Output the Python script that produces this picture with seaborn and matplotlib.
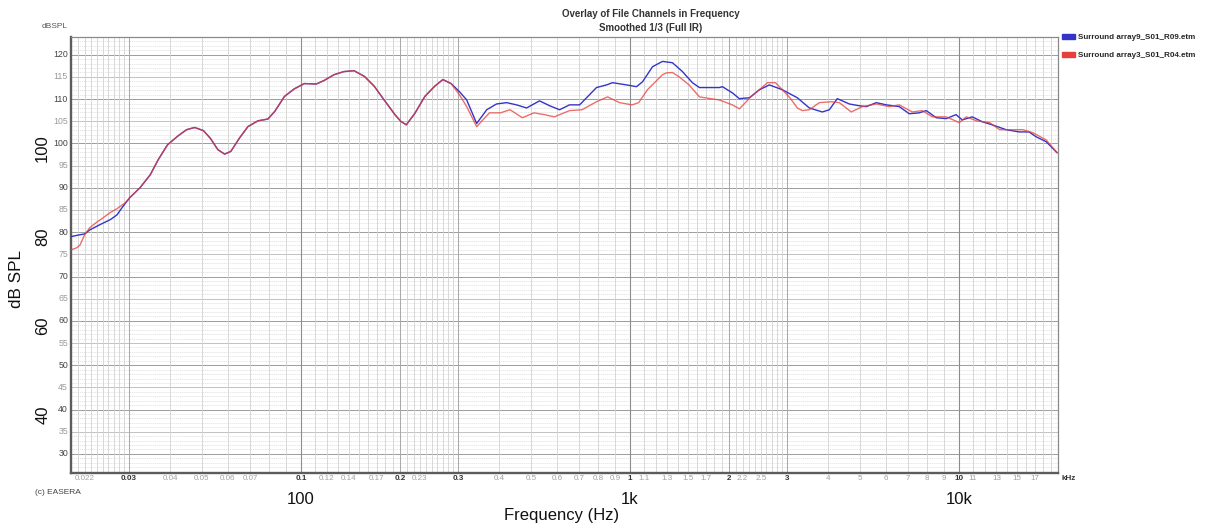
import numpy as np
import pandas as pd
import matplotlib
matplotlib.use("Agg")
import matplotlib.pyplot as plt
import matplotlib.transforms as mtransforms
from matplotlib.patches import Patch
from matplotlib.ticker import NullLocator
import seaborn as sns

# ---------------- measured responses (Hz, dB SPL) ----------------
# below 32 Hz the two measurements differ
blue_low_freq = [20, 20.9, 22.0, 22.8, 24.5, 26.3, 27.6, 28.7, 30.2]
blue_low_db = [79.0, 79.3, 79.6, 80.5, 81.7, 82.8, 83.9, 85.7, 87.8]
red_low_freq = [20, 20.85, 21.3, 22.0, 22.8, 24.0, 25.0, 26.3, 27.6, 29.2, 30.2]
red_low_db = [76.0, 76.5, 77.1, 79.4, 81.0, 82.3, 83.2, 84.4, 85.3, 86.6, 87.8]

# 32 Hz .. 290 Hz both measurements coincide
shared_freq = [32.4, 34.8, 36.8, 39.3, 42.3, 44.9, 47.5, 50.5, 53.0, 55.9, 58.6,
               61.2, 65.0, 69.0, 74.0, 79.3, 83.2, 89.1, 95.4, 102.4, 111.3, 117.6,
               126, 135, 145, 156, 167, 179, 193, 201, 209, 222, 238, 255, 270, 286]
shared_db = [90.0, 92.9, 96.3, 99.7, 101.7, 103.1, 103.6, 102.9, 101.2, 98.6, 97.6,
             98.2, 101.2, 103.8, 105.1, 105.5, 107.2, 110.6, 112.3, 113.5, 113.4, 114.2,
             115.5, 116.2, 116.4, 115.1, 112.9, 109.8, 106.5, 105.0, 104.2, 106.8,
             110.6, 112.9, 114.4, 113.5]

blue_high_freq = [303, 319, 342, 367, 393, 422, 452, 485, 531, 570, 611, 655, 703,
                  738, 791, 849, 885, 976, 1047, 1092, 1171, 1256, 1346, 1444, 1548,
                  1626, 1870, 1910, 2048, 2151, 2307, 2474, 2653, 2906, 3227, 3509,
                  3843, 4036, 4268, 4642, 4977, 5229, 5607, 6014, 6587, 7063, 7570,
                  7956, 8531, 9148, 9800, 10232, 10970, 11767, 12619, 13913, 15236,
                  16330, 17164, 18405, 19876]
blue_high_db = [111.7, 109.8, 104.5, 107.6, 108.9, 109.2, 108.7, 108.0, 109.6, 108.5,
                107.6, 108.7, 108.7, 110.3, 112.6, 113.2, 113.7, 113.2, 112.8, 113.9,
                117.3, 118.5, 118.2, 116.2, 113.7, 112.6, 112.6, 112.8, 111.4, 110.1,
                110.3, 112.1, 113.2, 112.1, 110.3, 108.0, 107.1, 107.6, 110.1, 108.9,
                108.5, 108.3, 109.2, 108.7, 108.3, 106.7, 106.9, 107.4, 105.8, 105.6,
                106.5, 105.3, 106.0, 104.9, 104.2, 103.1, 102.6, 102.6, 101.5, 100.4,
                97.9]

red_high_freq = [303, 319, 342, 374, 404, 432, 471, 511, 549, 589, 655, 715, 791, 855,
                 930, 1015, 1063, 1130, 1256, 1290, 1346, 1412, 1512, 1626, 1870, 2048,
                 2151, 2330, 2620, 2770, 3063, 3227, 3342, 3509, 3764, 4094, 4329, 4706,
                 5083, 5607, 6138, 6587, 7212, 7736, 8297, 9148, 10019, 10530, 11304,
                 12390, 13300, 14600, 15660, 16800, 18405, 19876]
red_high_db = [111.0, 108.3, 103.8, 106.9, 106.9, 107.6, 105.8, 106.9, 106.5, 106.0,
               107.4, 107.6, 109.4, 110.5, 109.2, 108.7, 109.2, 112.1, 115.5, 115.9,
               116.0, 115.0, 113.2, 110.5, 109.8, 108.7, 107.8, 110.5, 113.7, 113.7,
               110.3, 108.0, 107.4, 107.6, 109.2, 109.4, 109.2, 107.1, 108.3, 108.9,
               108.3, 108.7, 107.1, 107.4, 106.0, 106.0, 104.7, 106.0, 105.1, 104.7,
               103.1, 103.1, 103.1, 102.4, 100.8, 97.9]

series_names = ["Surround array9_S01_R09.etm", "Surround array3_S01_R04.etm"]
series_colors = ["#3434c8", "#e5403b"]

x_small_ticks = [22, 30, 40, 50, 60, 70, 100, 120, 140, 170, 200, 230, 300, 400, 500,
                 600, 700, 800, 900, 1000, 1100, 1300, 1500, 1700, 2000, 2200, 2500,
                 3000, 4000, 5000, 6000, 7000, 8000, 9000, 10000, 11000, 13000, 15000,
                 17000]
x_small_labels = ["0.022", "0.03", "0.04", "0.05", "0.06", "0.07", "0.1", "0.12",
                  "0.14", "0.17", "0.2", "0.23", "0.3", "0.4", "0.5", "0.6", "0.7",
                  "0.8", "0.9", "1", "1.1", "1.3", "1.5", "1.7", "2", "2.2", "2.5",
                  "3", "4", "5", "6", "7", "8", "9", "10", "11", "13", "15", "17"]
x_strong = {30, 100, 200, 300, 1000, 2000, 3000, 10000}
x_big_ticks = [100, 1000, 10000]
x_big_labels = ["100", "1k", "10k"]
y_big_ticks = [40, 60, 80, 100]

# ---------------- figure ----------------
sns.set_style("white")
plt.rcParams["font.family"] = ["Liberation Sans", "DejaVu Sans"]

W, H = 1205, 528
fig = plt.figure(figsize=(W / 100, H / 100), dpi=100)
ax = fig.add_axes([71 / W, 1 - 473 / H, (1058 - 71) / W, (473 - 37) / H])
ax.set_xscale("log")
XMIN, XMAX, YMIN, YMAX = 20, 20000, 25.7, 124
ax.set_xlim(XMIN, XMAX)
ax.set_ylim(YMIN, YMAX)

# horizontal grid: 1 dB fine, 5 dB medium, 10 dB strong
for v in range(26, 124):
    if v % 10 == 0:
        ax.axhline(v, color="#9c9c9c", lw=0.7, zorder=1)
    elif v % 5 == 0:
        ax.axhline(v, color="#b8b8b8", lw=0.6, zorder=1)
    else:
        ax.axhline(v, color="#dedede", lw=0.5, ls=(0, (2, 1)), zorder=0.9)

# vertical grid: fine steps in the 1..3 part of each decade, coarse above
vgrid = []
for dec in (10, 100, 1000, 10000):
    vgrid += [round(k * dec / 10, 6) for k in range(10, 30)]
    vgrid += [k * dec for k in range(3, 10)]
for f in vgrid:
    if f <= XMIN or f >= XMAX:
        continue
    if f in (100, 1000, 10000):
        ax.axvline(f, color="#8c8c8c", lw=0.8, zorder=1.1)
    elif f in (30, 200, 300, 2000, 3000):
        ax.axvline(f, color="#a8a8a8", lw=0.7, zorder=1.05)
    else:
        ax.axvline(f, color="#d2d2d2", lw=0.6, zorder=1)

# curves
blue_freq = blue_low_freq + shared_freq + blue_high_freq
blue_db = blue_low_db + shared_db + blue_high_db
red_freq = red_low_freq + shared_freq + red_high_freq
red_db = red_low_db + shared_db + red_high_db
df = pd.concat([
    pd.DataFrame({"freq": blue_freq, "db": blue_db, "trace": series_names[0]}),
    pd.DataFrame({"freq": red_freq, "db": red_db, "trace": series_names[1]}),
])
for name, col, alpha in zip(series_names, series_colors, (1.0, 0.75)):
    sub = df[df["trace"] == name]
    sns.lineplot(data=sub, x="freq", y="db", color=col, lw=1.0, alpha=alpha,
                 estimator=None, sort=False, legend=False, ax=ax, zorder=3)

# frame
for side in ("left", "bottom"):
    ax.spines[side].set_color("#5c5c5c")
    ax.spines[side].set_linewidth(1.7)
for side in ("top", "right"):
    ax.spines[side].set_color("#8a8a8a")
    ax.spines[side].set_linewidth(0.9)

# large outer tick labels
ax.xaxis.set_minor_locator(NullLocator())
ax.yaxis.set_minor_locator(NullLocator())
ax.set_xticks(x_big_ticks)
ax.set_xticklabels(x_big_labels)
ax.set_yticks(y_big_ticks)
ax.set_yticklabels([str(v) for v in y_big_ticks], rotation=90, va="center")
ax.tick_params(axis="x", length=0, pad=14, labelsize=12, labelcolor="#111111")
ax.tick_params(axis="y", length=0, pad=15, labelsize=12, labelcolor="#111111")
shift = mtransforms.ScaledTranslation(0, -0.05, fig.dpi_scale_trans)
for lbl in ax.get_yticklabels():
    lbl.set_transform(lbl.get_transform() + shift)

ax.set_xlabel("Frequency (Hz)", fontsize=12, color="#111111")
ax.xaxis.set_label_coords(0.497, -0.081)
ax.set_ylabel("dB SPL", fontsize=12.3, color="#111111")
ax.yaxis.set_label_coords(-0.048, 0.445)

# small inner scale labels
ytrans = mtransforms.offset_copy(
    mtransforms.blended_transform_factory(ax.transAxes, ax.transData),
    fig=fig, x=-3, y=0, units="dots")
for v in range(30, 121, 5):
    ax.text(0, v, str(v), transform=ytrans, ha="right", va="center",
            fontsize=6.3, color="#444444" if v % 10 == 0 else "#9a9a9a")

xtrans = mtransforms.offset_copy(
    mtransforms.blended_transform_factory(ax.transData, ax.transAxes),
    fig=fig, x=0, y=-6, units="dots")
for f, lab in zip(x_small_ticks, x_small_labels):
    strong = f in x_strong
    ax.text(f, 0, lab, transform=xtrans, ha="center", va="center", fontsize=5.8,
            color="#333333" if strong else "#a0a0a0",
            fontweight="bold" if strong else "normal")

fig.text(1061 / W, 1 - 479 / H, "kHz", ha="left", va="center", fontsize=5.8,
         fontweight="bold", color="#333333")
fig.text(68 / W, 1 - 27 / H, "dBSPL", ha="right", va="center", fontsize=6,
         color="#555555")
fig.text(35 / W, 1 - 493 / H, "(c) EASERA", ha="left", va="center", fontsize=6,
         color="#444444")

# title
fig.text(651 / W, 1 - 14 / H, "Overlay of File Channels in Frequency", ha="center",
         va="center", fontsize=7, fontweight="bold", color="#333333")
fig.text(651 / W, 1 - 28 / H, "Smoothed 1/3 (Full IR)", ha="center", va="center",
         fontsize=7, fontweight="bold", color="#333333")

# legend
handles = [Patch(facecolor=c, edgecolor=c) for c in series_colors]
fig.legend(handles, series_names, loc="upper left",
           bbox_to_anchor=(1062 / W, 1 - 34 / H), frameon=False,
           prop={"size": 5.8, "weight": "bold"}, handlelength=1.6,
           handleheight=0.55, handletextpad=0.4, labelspacing=1.3,
           borderaxespad=0, borderpad=0)

fig.savefig("out.png", dpi=100)
